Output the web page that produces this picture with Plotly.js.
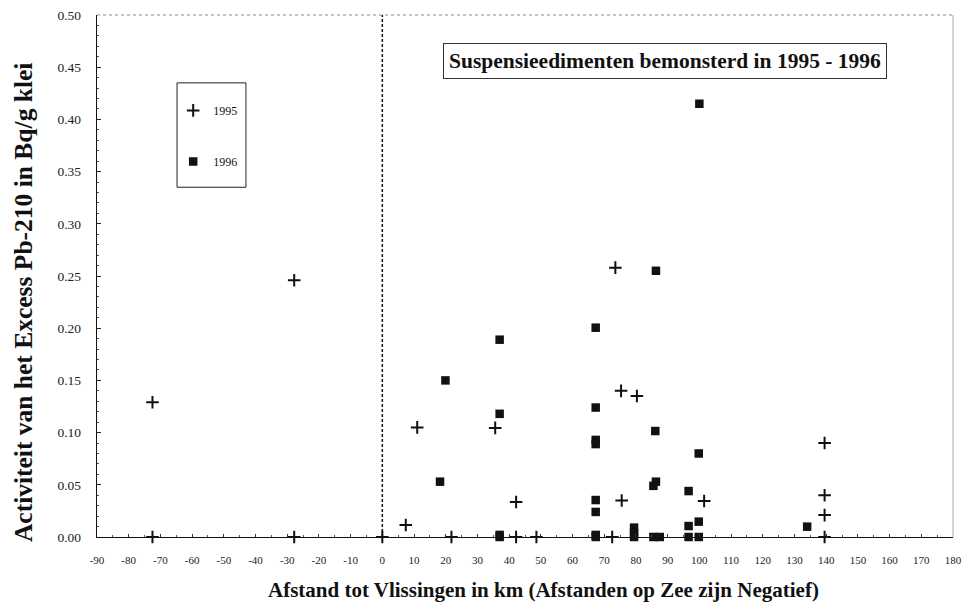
<!DOCTYPE html>
<html>
<head>
<meta charset="utf-8">
<script src="https://cdn.plot.ly/plotly-3.0.1.min.js"></script>
<style>html,body{margin:0;padding:0;background:#fff;}#chart{width:968px;height:605px;}</style>
</head>
<body>
<div id="chart"></div>
<script>
// Data
const x1995 = [-72.5, -72.5, -27.8, -27.8, 0, 7.4, 11, 21.8, 35.6, 42.2, 42.2, 48.6, 72.5, 73.5, 75.3, 80.3, 75.5, 101.5, 139.5, 139.5, 139.5, 139.5];
const y1995 = [0.129, 0, 0.246, 0, 0, 0.0115, 0.105, 0, 0.1045, 0.0335, 0, 0, 0, 0.258, 0.140, 0.135, 0.035, 0.0345, 0.090, 0.040, 0.021, 0];

const x1996 = [18.2, 19.9, 37, 37, 37, 37, 67.3, 67.3, 67.3, 67.3, 67.3, 67.3, 67.3, 67.3, 79.4, 79.4, 79.4, 86.3, 86.1, 86.3, 85.5, 85.5, 87.5, 96.6, 96.6, 99.8, 99.8, 100, 96.6, 99.8, 134];
const y1996 = [0.053, 0.150, 0.189, 0.118, 0, 0.002, 0.2005, 0.124, 0.093, 0.089, 0.0354, 0.024, 0, 0.002, 0.009, 0.004, 0, 0.255, 0.1015, 0.053, 0.049, 0, 0, 0.044, 0.0105, 0.0147, 0.080, 0.415, 0, 0, 0.0099];

const seriesNames = ["1995", "1996"];
const xTickVals = [-90,-80,-70,-60,-50,-40,-30,-20,-10,0,10,20,30,40,50,60,70,80,90,100,110,120,130,140,150,160,170,180];
const xTickText = ["-90","-80","-70","-60","-50","-40","-30","-20","-10","0","10","20","30","40","50","60","70","80","90","100","110","120","130","140","150","160","170","180"];
const xRange = [-90, 180];
const yRange = [0, 0.5];
const refLineX = 0;

const titleText = "Suspensieedimenten bemonsterd in 1995 - 1996";
const xTitleText = "Afstand tot Vlissingen in km (Afstanden op Zee zijn Negatief)";
const yTitleText = "Activiteit van het Excess Pb-210 in Bq/g klei";

const serif = "'Liberation Serif', 'Times New Roman', serif";

const traces = [
  {
    x: x1995, y: y1995, type: "scatter", mode: "markers", name: seriesNames[0],
    legendgroup: "a",
    marker: {symbol: "cross-thin", size: 9, color: "#111", line: {color: "#111", width: 2}},
    cliponaxis: false
  },
  {
    x: x1996, y: y1996, type: "scatter", mode: "markers", name: seriesNames[1],
    legendgroup: "b",
    marker: {symbol: "square", size: 8.5, color: "#111", line: {width: 0}},
    cliponaxis: false
  }
];

const layout = {
  width: 968, height: 605,
  paper_bgcolor: "#fff", plot_bgcolor: "#fff",
  margin: {l: 97, r: 15, t: 15, b: 68},
  font: {family: serif, color: "#111"},
  showlegend: true,
  legend: {
    x: 0.089, y: 0.845, xanchor: "left", yanchor: "top",
    bgcolor: "rgba(0,0,0,0)", borderwidth: 0,
    font: {family: serif, size: 12, color: "#111"},
    traceorder: "grouped", tracegroupgap: 32, itemwidth: 30
  },
  xaxis: {
    range: xRange, showgrid: false, zeroline: false,
    showline: true, linecolor: "#111", linewidth: 1.2,
    tickmode: "array", tickvals: xTickVals, ticktext: xTickText,
    ticks: "inside", ticklen: 3, tickcolor: "#333", tickwidth: 1,
    minor: {dtick: 5, ticks: "inside", ticklen: 2, tickcolor: "#555"},
    tickfont: {family: serif, size: 11, color: "#222"},
    ticklabelstandoff: 13
  },
  yaxis: {
    range: yRange, showgrid: false, zeroline: false,
    showline: true, linecolor: "#111", linewidth: 1.2,
    dtick: 0.05, tickformat: ".2f",
    ticks: "inside", ticklen: 4, tickcolor: "#222", tickwidth: 1,
    minor: {dtick: 0.01, ticks: "inside", ticklen: 2, tickcolor: "#555"},
    tickfont: {family: serif, size: 13.5, color: "#222"},
    ticklabelstandoff: 12
  },
  shapes: [
    {type: "line", xref: "x", yref: "y", x0: refLineX, x1: refLineX, y0: yRange[0], y1: yRange[1],
     line: {color: "#111", width: 1.5, dash: "3px,2px"}},
    {type: "line", xref: "paper", yref: "paper", x0: 0, x1: 1, y0: 1, y1: 1,
     line: {color: "#888", width: 1, dash: "dot"}},
    {type: "line", xref: "paper", yref: "paper", x0: 1, x1: 1, y0: 0, y1: 1,
     line: {color: "#aaa", width: 1}},
    {type: "rect", xref: "paper", yref: "paper", x0: 0.0935, x1: 0.174, y0: 0.670, y1: 0.870,
     line: {color: "#222", width: 1}, fillcolor: "rgba(0,0,0,0)"}
  ],
  annotations: [
    {text: titleText, xref: "paper", yref: "paper", x: 0.663, y: 0.912, xanchor: "center", yanchor: "middle",
     showarrow: false, font: {family: serif, size: 21.5, weight: "bold", color: "#111"},
     bordercolor: "#333", borderwidth: 1, borderpad: 5, bgcolor: "#fff"},
    {text: xTitleText, xref: "paper", yref: "paper", x: 0.522, y: 0, yshift: -53, xanchor: "center", yanchor: "middle",
     showarrow: false, font: {family: serif, size: 21, weight: "bold", color: "#111"}},
    {text: yTitleText, xref: "paper", yref: "paper", x: 0, xshift: -74, y: 0.45, xanchor: "center", yanchor: "middle",
     textangle: -90, showarrow: false, font: {family: serif, size: 25.5, weight: "bold", color: "#111"}}
  ]
};

Plotly.newPlot("chart", traces, layout, {displayModeBar: false, staticPlot: true});
</script>
</body>
</html>
